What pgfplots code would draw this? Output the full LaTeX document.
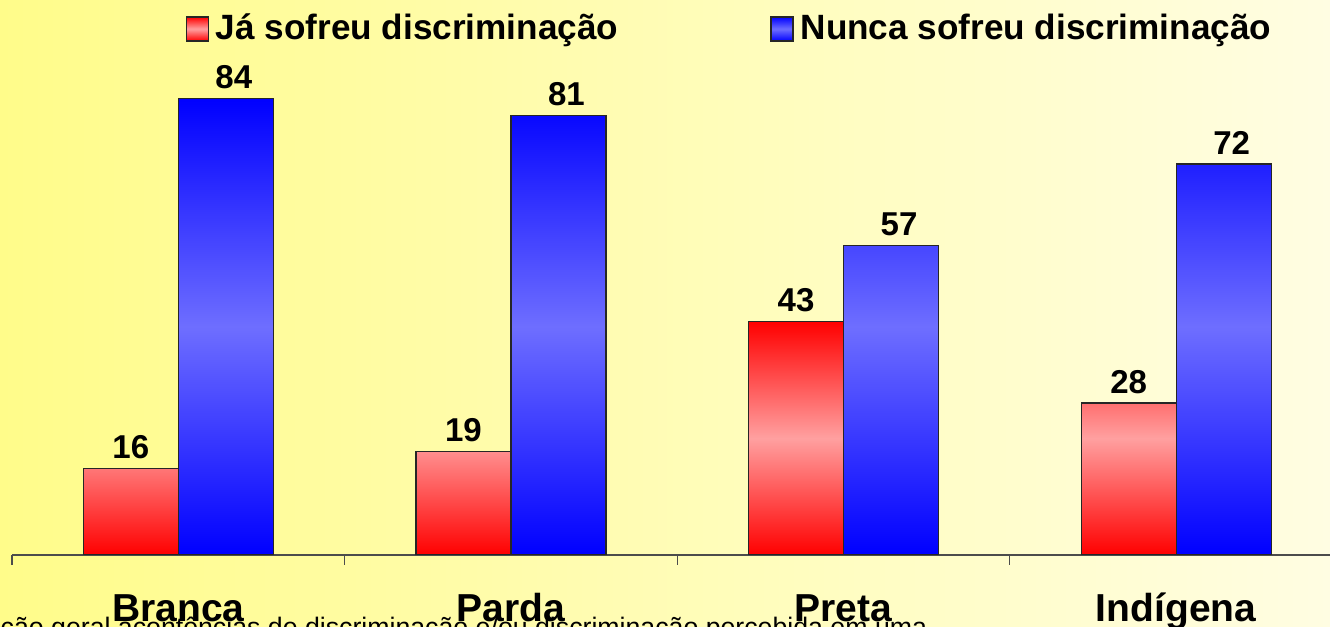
\documentclass[border=0pt]{standalone}
\usepackage{fontspec}
\setmainfont{Liberation Sans}
\usepackage{pgfplots}
\pgfplotsset{compat=1.18}
\definecolor{bgleft}{RGB}{255,252,138}
\definecolor{bgright}{RGB}{255,253,226}
\definecolor{redpink}{RGB}{255,160,160}
\definecolor{bluelight}{RGB}{110,110,255}

\begin{document}
\begin{tikzpicture}
\useasboundingbox (0,0) rectangle (13.3,6.27);
\clip (0,0) rectangle (13.3,6.27);
\shade[left color=bgleft, right color=bgright] (0,0) rectangle (13.3,6.27);
\node[anchor=base west, inner sep=0pt, font=\fontsize{7.6}{9}\selectfont] at (0,-0.1)
  {ção geral acontências de discriminação e/ou discriminação percebida em uma};
\begin{axis}[
  at={(0.12cm,0.72cm)}, anchor=south west, scale only axis,
  width=13.18cm, height=5.43cm,
  ybar=0pt, bar width=0.95cm,
  ymin=0, ymax=100, xmin=-0.5, xmax=3.4626,
  axis x line=bottom, axis y line=none,
  x axis line style={-, draw=black!70, line width=0.012cm},
  tick align=outside, major tick length=0pt,
  xtick={0,1,2,3}, xticklabels={Branca,Parda,Preta,Indígena},
  extra x ticks={-0.5,0.5,1.5,2.5}, extra x tick labels={},
  extra x tick style={major tick length=0.1cm, tick style={draw=black!70, line width=0.012cm}},
  xticklabel style={font=\fontsize{11.1}{13}\selectfont\bfseries, anchor=base, yshift=-0.67cm},
  /pgf/number format/assume math mode=true,
  nodes near coords,
  nodes near coords style={font=\fontsize{9.4}{11}\selectfont\bfseries, anchor=south, inner sep=0pt, yshift=0.09cm},
  legend columns=2,
  legend style={at={(0.1313,0.9687)}, anchor=west, draw=none, fill=none, inner sep=0pt,
    font=\fontsize{10}{12}\selectfont\bfseries,
    /tikz/every even column/.append style={column sep=1.45cm}},
  legend image code/.code={\draw[#1] (0cm,-0.12cm) rectangle (0.22cm,0.12cm);},
]
\addplot[draw=black!85, line width=0.012cm, top color=red, bottom color=red, middle color=redpink]
  coordinates {(0,16) (1,19) (2,43) (3,28)};
\addplot[draw=black!85, line width=0.012cm, top color=blue, bottom color=blue, middle color=bluelight,
  nodes near coords style={xshift=0.08cm}]
  coordinates {(0,84) (1,81) (2,57) (3,72)};
\legend{Já sofreu discriminação, Nunca sofreu discriminação}
\end{axis}
\end{tikzpicture}
\end{document}
